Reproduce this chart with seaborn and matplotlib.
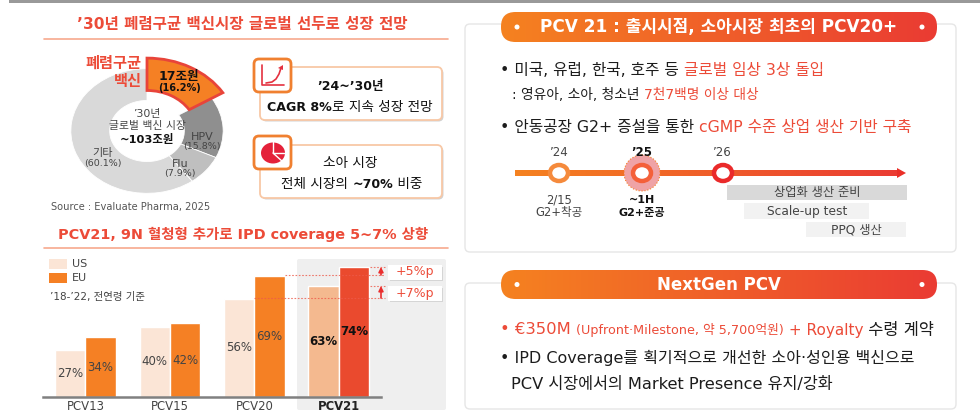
"""
plot.py
Pneumococcal vaccine slide: market donut, IPD coverage bars, PCV21 timeline.
"""

import numpy as np
import pandas as pd
import matplotlib
matplotlib.use("Agg")
import matplotlib.pyplot as plt
from matplotlib.patches import Ellipse, FancyBboxPatch, Polygon, Rectangle
import seaborn as sns

# ── Data ──────────────────────────────────────────────────────────────────────
market_names = ["폐렴구균", "HPV", "Flu", "기타"]
market_share = [16.2, 15.8, 7.9, 60.1]
market_colors = ["#F58024", "#8F8F8F", "#BFBFBF", "#D9D9D9"]

vaccines = ["PCV13", "PCV15", "PCV20", "PCV21"]
us_cover = [27, 40, 56, 63]
eu_cover = [34, 42, 69, 74]

W, H = 980, 412
ORG = "#F58024"
RED = "#EC4B38"
TXT = "#1c1c1c"
GREY = "#444444"
US_C = "#FBE5D6"
US_HI = "#F4B98F"
EU_HI = "#EA4A2E"

sns.set_theme(style="white")
# DejaVu first: its wide latin is closer to the slide font, hangul falls through
plt.rcParams["font.family"] = ["DejaVu Sans", "Noto Sans CJK KR"]

fig = plt.figure(figsize=(W / 100, H / 100), dpi=100, facecolor="white")


def px_axes(l, t, r, b, z):
    ax = fig.add_axes([l / W, 1 - b / H, (r - l) / W, (b - t) / H], zorder=z)
    ax.patch.set_alpha(0)
    return ax


def overlay(z):
    ax = px_axes(0, 0, W, H, z)
    ax.set_xlim(0, W)
    ax.set_ylim(H, 0)
    ax.axis("off")
    return ax


bg = overlay(0)
fg = overlay(3)
renderer = fig.canvas.get_renderer()


def label(x, y, s, size=9, color=TXT, weight="normal", ha="center", ax=fg):
    return ax.text(x, y, s, fontsize=size, color=color, fontweight=weight,
                   ha=ha, va="center", zorder=8)


def text_w(s, size, weight):
    # the bar keeps trailing spaces in the measurement
    a = fg.text(0, 0, s + "|", fontsize=size, fontweight=weight)
    b = fg.text(0, 0, "|", fontsize=size, fontweight=weight)
    w = a.get_window_extent(renderer).width - b.get_window_extent(renderer).width
    a.remove()
    b.remove()
    return w


def rich(x, y, parts, center=False):
    widths = [text_w(p[0], p[2], p[3]) for p in parts]
    if center:
        x -= sum(widths) / 2
    for (s, color, size, weight), w in zip(parts, widths):
        label(x, y, s, size, color, weight, ha="left")
        x += w


def round_box(ax, l, t, r, b, rad, fc, ec, lw, z=2):
    box = FancyBboxPatch((l, t), r - l, b - t, boxstyle=f"round,pad=0,rounding_size={rad}",
                         fc=fc, ec=ec, lw=lw, zorder=z, mutation_aspect=1)
    ax.add_patch(box)
    return box


def gradient(ax, l, t, r, b, clip=None, z=3):
    ramp = np.linspace(0, 1, 256)[None, :]
    cmap = matplotlib.colors.LinearSegmentedColormap.from_list("o2r", ["#F58220", "#EA3B33"])
    im = ax.imshow(ramp, extent=(l, r, b, t), cmap=cmap, aspect="auto", zorder=z)
    if clip is not None:
        im.set_clip_path(clip)
    ax.set_xlim(0, W)
    ax.set_ylim(H, 0)


# ── Frame, titles ─────────────────────────────────────────────────────────────
bg.add_patch(Rectangle((9, 0), W - 9, 3, fc="#999999", ec="none"))

label(242, 24, "’30년 폐렴구균 백신시장 글로벌 선두로 성장 전망", 11.2, RED, "bold")
bg.plot([44, 448], [39, 39], color="#F7A98E", lw=1.2)
label(243, 234, "PCV21, 9N 혈청형 추가로 IPD coverage 5~7% 상향", 10.4, RED, "bold")
bg.plot([44, 448], [248, 248], color="#F7A98E", lw=1.2)

# ── Donut ─────────────────────────────────────────────────────────────────────
ax_pie = px_axes(147 - 99, 131 - 81, 147 + 99, 131 + 81, 1)
wedges, _ = ax_pie.pie(market_share, colors=market_colors, startangle=90, counterclock=False,
                       radius=1, wedgeprops={"width": 0.51, "edgecolor": "white", "linewidth": 0.6})
wedges[0].set_radius(1.17)
wedges[0].set_width(0.52)
wedges[0].set_edgecolor("#E8443A")
wedges[0].set_linewidth(2)
wedges[0].set_zorder(5)
ax_pie.set_aspect("auto")
ax_pie.set_xlim(-1.3, 1.3)
ax_pie.set_ylim(-1.3, 1.3)

label(113, 63, market_names[0], 11, RED, "bold")
label(128, 81, "백신", 11, RED, "bold")
label(179, 76, "17조원", 9, "#111111", "bold")
label(179, 88, f"({market_share[0]}%)", 7, "#111111", "bold")
label(147, 114, "’30년", 7.8, GREY)
label(147, 126, "글로벌 백신 시장", 7.8, GREY)
label(147, 140, "~103조원", 8.2, "#111111", "bold")
label(202, 137, market_names[1], 8, GREY)
label(202, 147, f"({market_share[1]}%)", 6.8, GREY)
label(180, 164, market_names[2], 8, GREY)
label(180, 173, f"({market_share[2]}%)", 6.8, GREY)
label(103, 153, market_names[3], 8, GREY)
label(103, 163, f"({market_share[3]}%)", 6.8, GREY)
label(51, 207, "Source : Evaluate Pharma, 2025", 7.1, "#555555", ha="left")

# ── Callout cards ─────────────────────────────────────────────────────────────
for top, icon_top in [(67, 59), (145, 136)]:
    round_box(bg, 261.5, top + 1.5, 443.5, top + 54.5, 5, "#D2D2D2", "none", 0)
    round_box(bg, 260, top, 442, top + 53, 5, "white", "#F8C8A6", 1.3)
    round_box(bg, 254, icon_top, 291, icon_top + 33, 5, "white", "#F08030", 2, z=3)

fg.plot([262, 262, 284], [65, 85, 85], color="#E4313F", lw=1.2)
curve_x = np.array([266, 272, 276, 279, 281])
fg.plot(curve_x, [83, 82, 79, 74, 68], color="#E4313F", lw=1.2)
fg.add_patch(Polygon([(283, 65), (278, 68), (283, 70)], fc="#E4313F", ec="none"))
fg.add_patch(Ellipse((273, 153), 24, 21, fc="#E4213A", ec="none"))
fg.plot([273, 273, 285], [142, 153, 153], color="white", lw=1)
fg.plot([273, 283], [153, 162], color="white", lw=1)

label(350, 86, "’24~’30년", 9, "#111111", "bold")
rich(350, 107, [("CAGR 8%", "#111111", 9.1, "bold"), ("로 지속 성장 전망", "#111111", 9.8, "normal")], center=True)
label(350, 163, "소아 시장", 9.8, "#111111")
rich(352, 184, [("전체 시장의 ", "#111111", 9.8, "normal"), ("~70%", "#111111", 9.1, "bold"),
                (" 비중", "#111111", 9.8, "normal")], center=True)

# ── IPD coverage bars ─────────────────────────────────────────────────────────
bg.add_patch(FancyBboxPatch((297, 259), 149, 151, boxstyle="round,pad=0,rounding_size=2",
                            fc="#EFEFEF", ec="none"))

cover = pd.DataFrame({
    "vaccine": vaccines * 2,
    "region": ["US"] * len(vaccines) + ["EU"] * len(vaccines),
    "coverage": us_cover + eu_cover,
})

ax_bar = px_axes(43.25, 240, 381, 397, 1)
sns.barplot(data=cover, x="vaccine", y="coverage", hue="region", hue_order=["US", "EU"],
            palette={"US": US_C, "EU": ORG}, width=0.72, gap=0, saturation=1,
            legend=False, ax=ax_bar)
ax_bar.patch.set_alpha(0)
ax_bar.set_xlim(-0.5, 3.5)
ax_bar.set_ylim(0, 157 / 1.757)
ax_bar.set_xlabel("")
ax_bar.set_ylabel("")
ax_bar.set_yticks([])
for s in ["top", "left", "right"]:
    ax_bar.spines[s].set_visible(False)
ax_bar.spines["bottom"].set_color("#808080")
ax_bar.spines["bottom"].set_linewidth(1.8)
ax_bar.tick_params(axis="x", length=0, pad=2.5, labelsize=8.4, labelcolor=GREY)
ax_bar.get_xticklabels()[3].set_fontweight("bold")
ax_bar.get_xticklabels()[3].set_color("#222222")

ax_bar.containers[0][3].set_facecolor(US_HI)
ax_bar.containers[1][3].set_facecolor(EU_HI)
for cont in ax_bar.containers:
    labels = ax_bar.bar_label(cont, fmt="%d%%", label_type="center", fontsize=8.5, color=GREY)
    labels[3].set_fontweight("bold")
    labels[3].set_color("#111111")

# legend and note
bg.add_patch(Rectangle((49, 259), 18, 10, fc=US_C, ec="none"))
bg.add_patch(Rectangle((49, 273), 18, 10, fc=ORG, ec="none"))
label(72, 264, "US", 8, GREY, ha="left")
label(72, 278, "EU", 8, GREY, ha="left")
label(50, 297, "’18-’22, 전연령 기준", 7.5, GREY, ha="left")

# coverage gain markers
for y, x0 in [(267, 370), (275, 285), (286, 370), (298, 254)]:
    fg.plot([x0, 385], [y, y], color="#EE5A4A", lw=0.8, ls=(0, (1.5, 1.5)), alpha=0.8)
for y0, y1 in [(275, 267), (298, 286)]:
    fg.annotate("", xy=(381, y1), xytext=(381, y0),
                arrowprops={"arrowstyle": "-|>", "color": "#EA2E2E", "lw": 1.2,
                            "shrinkA": 0, "shrinkB": 0, "mutation_scale": 7})
for top, s in [(265, "+5%p"), (286, "+7%p")]:
    fg.add_patch(Rectangle((390, top + 2), 53, 14, fc="#D5D5D5", ec="none", zorder=4))
    fg.add_patch(Rectangle((388, top), 54, 14.5, fc="white", ec="none", zorder=5))
    label(415, top + 7, s, 9, RED)

# ── Right cards ───────────────────────────────────────────────────────────────
round_box(bg, 465, 24, 956, 252, 5, "white", "#E6E6E6", 1)
round_box(bg, 465, 283, 956, 409, 5, "white", "#E6E6E6", 1)

for t, b, s, size in [(12, 42, "PCV 21 : 출시시점, 소아시장 최초의 PCV20+", 12.2), (270, 299, "NextGen PCV", 12)]:
    pill = round_box(fg, 501, t, 937, b, 14.5, "none", "none", 0)
    gradient(fg, 501, t, 937, b, clip=pill)
    for x in [517, 922]:
        fg.add_patch(Ellipse((x, (t + b) / 2), 5, 5, fc="white", ec="none", zorder=7))
    label(719, (t + b) / 2, s, size, "white", "bold")

BODY = 11.3
rich(500, 70, [("• 미국, 유럽, 한국, 호주 등 ", TXT, BODY, "medium"), ("글로벌 임상 3상 돌입", RED, BODY, "medium")])
rich(512, 95, [(": 영유아, 소아, 청소년 ", TXT, 9.9, "medium"), ("7천7백명 이상 대상", RED, 9.9, "medium")])
rich(500, 127, [("• 안동공장 G2+ 증설을 통한 ", TXT, BODY, "medium"),
                ("cGMP 수준 상업 생산 기반 구축", RED, BODY, "medium")])

# timeline
gradient(fg, 515, 170, 898, 176, z=2)
fg.add_patch(Polygon([(897, 168), (906, 173), (897, 178)], fc="#EA2F28", ec="none", zorder=2))
fg.add_patch(Ellipse((642, 173), 36, 36, fc="#EFA3A6", ec="#F58024", lw=0.8, ls=":", zorder=3))
for x, c in [(559, "#F58A3C"), (642, "#F4603A"), (723, "#EA2A2A")]:
    fg.add_patch(Ellipse((x, 173), 18, 16, fc="white", ec=c, lw=3.2, zorder=4))

label(559, 152, "’24", 8.5, GREY)
label(642, 152, "’25", 8.5, "#111111", "bold")
label(722, 152, "’26", 8.5, GREY)
label(559, 200, "2/15", 8.3, GREY)
label(559, 212, "G2+착공", 8.3, GREY)
label(642, 200, "~1H", 8, "#111111", "bold")
label(642, 213, "G2+준공", 8, "#111111", "bold")

for l, t, r, b, fc in [(727, 185, 907, 200, "#D9D9D9"), (744, 203, 869, 219, "#F2F2F2"),
                       (806, 222, 906, 237, "#F2F2F2")]:
    bg.add_patch(Rectangle((l, t), r - l, b - t, fc=fc, ec="none", zorder=3))
label(817, 192, "상업화 생산 준비", 8.8, GREY)
label(807, 211, "Scale-up test", 8.8, GREY)
label(856, 230, "PPQ 생산", 8.8, GREY)

# next gen text
rich(500, 330, [("• €350M ", RED, 11.8, "medium"), ("(Upfront·Milestone, 약 5,700억원)", RED, 9.2, "medium"),
                (" + Royalty", RED, 11, "medium"), (" 수령 계약", TXT, 11.8, "medium")])
rich(500, 358, [("• IPD Coverage를 획기적으로 개선한 소아·성인용 백신으로", TXT, 11.5, "medium")])
rich(511, 385, [("PCV 시장에서의 Market Presence 유지/강화", TXT, 11.7, "medium")])

fig.savefig("out.png", dpi=100, facecolor="white")
plt.close()
